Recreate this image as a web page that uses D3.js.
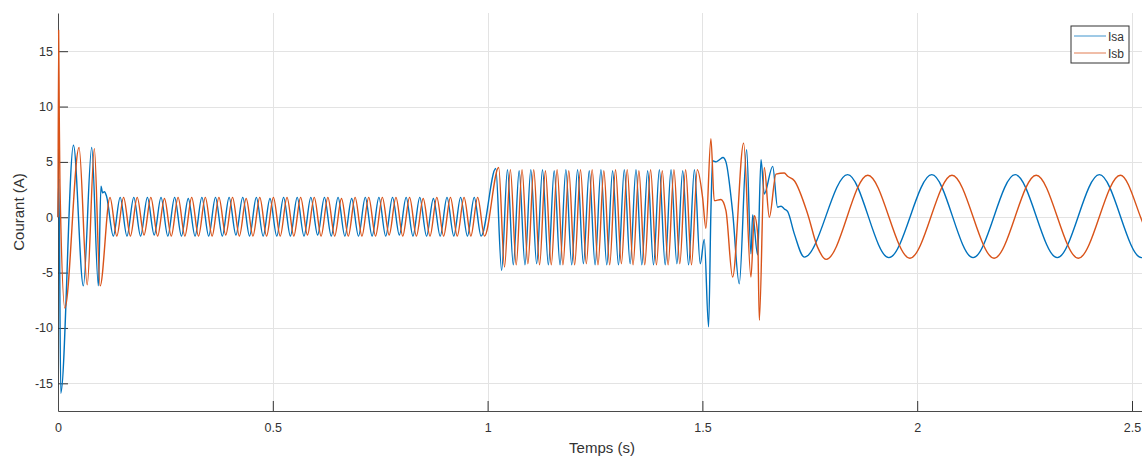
<!DOCTYPE html>
<html>
<head>
<meta charset="utf-8">
<script src="https://cdn.jsdelivr.net/npm/d3@7"></script>
<style>
  body { margin: 0; background: #fff; }
  svg { display: block; font-family: "Liberation Sans", Arial, sans-serif; }
</style>
</head>
<body>
<svg id="chart" width="1142" height="457"></svg>
<script>
// tick values / labels
var xTicks = [0, 0.5, 1, 1.5, 2, 2.5];
var xTickLabels = ["0", "0.5", "1", "1.5", "2", "2.5"];
var yTicks = [-15, -10, -5, 0, 5, 10, 15];
var yTickLabels = ["-15", "-10", "-5", "0", "5", "10", "15"];
var seriesNames = ["Isa", "Isb"];

// start-up transient (s, A)
var isaStartT = [0, 0.002, 0.0065, 0.036, 0.059, 0.0785, 0.094, 0.100, 0.104, 0.108];
var isaStartV = [0, 3.5, -15.9, 6.5, -6.2, 6.3, -6.2, 2.8, 2.2, 2.3];
var isbStartT = [0, 0.0015, 0.003, 0.0045, 0.016, 0.049, 0.068, 0.0846, 0.098];
var isbStartV = [0, 16.9, 8.9, 3.0, -8.2, 6.3, -6.1, 6.2, -6.2];

// no-load regime: successive peaks / troughs, half a period apart
var lowStep = 0.01585;
var isaLowT0 = 0.113;
var isaLowV = [
  1.9,-1.7,1.8,-1.7,1.8,-1.7,1.8,-1.6,1.8,-1.7,
  1.8,-1.7,1.7,-1.7,1.8,-1.7,1.8,-1.7,1.8,-1.6,
  1.8,-1.7,1.8,-1.7,1.7,-1.7,1.8,-1.7,1.8,-1.7,
  1.8,-1.6,1.8,-1.7,1.8,-1.7,1.7,-1.7,1.8,-1.7,
  1.8,-1.7,1.8,-1.6,1.8,-1.7,1.8,-1.7,1.7,-1.7,
  1.8,-1.7,1.8,-1.7,1.8,-1.7];
var isbLowT0 = 0.121;
var isbLowV = [
  1.8,-1.7,1.8,-1.7,1.8,-1.6,1.8,-1.7,1.7,-1.7,
  1.8,-1.7,1.8,-1.7,1.8,-1.7,1.8,-1.6,1.8,-1.7,
  1.7,-1.7,1.8,-1.7,1.8,-1.7,1.8,-1.7,1.8,-1.6,
  1.8,-1.7,1.8,-1.7,1.7,-1.7,1.8,-1.7,1.8,-1.7,
  1.8,-1.6,1.8,-1.7,1.8,-1.7,1.7,-1.7,1.8,-1.7,
  1.8,-1.7,1.8,-1.7,1.8,-1.7];

// load applied at t = 1 s
var highStep = 0.0136;
var isaHighT0 = 1.019;
var isaHighV = [
  4.4,-4.8,4.3,-4.3,4.2,-4.3,4.3,-4.2,4.3,-4.3,
  4.2,-4.3,4.3,-4.3,4.3,-4.2,4.2,-4.3,4.3,-4.3,
  4.2,-4.3,4.3,-4.2,4.3,-4.3,4.2,-4.3,4.3,-4.3,
  4.3,-4.2,4.2,-4.3,4.3,-4.2];
var isbHighT0 = 1.0258;
var isbHighV = [
  4.5,-4.5,4.3,-4.3,4.3,-4.2,4.3,-4.3,4.2,-4.3,
  4.3,-4.3,4.2,-4.3,4.3,-4.2,4.3,-4.3,4.2,-4.3,
  4.3,-4.2,4.3,-4.3,4.2,-4.3,4.3,-4.3,4.2,-4.3,
  4.3,-4.2,4.3,-4.3,4.3];

// speed change at 1.5 s and low-frequency regime
var isaTailT = [1.5043, 1.5144, 1.5198, 1.5237, 1.532, 1.540, 1.548, 1.5548, 1.5703, 1.5858,
  1.603, 1.613, 1.617, 1.6286, 1.6364, 1.644, 1.6636, 1.675, 1.683, 1.6907, 1.6986, 1.714, 1.7373,
  1.838, 1.934, 2.034, 2.130, 2.228, 2.326, 2.424, 2.522, 2.53];
var isaTailV = [-2.0, -9.9, 0.5, 5.1, 5.0, 5.2, 5.4, 5.0, 0.5, -6.0,
  6.1, -3.3, 0.2, -3.4, 5.2, 2.1, 4.6, 0.9, 1.0, 0.75, 0.5, -1.5, -3.6,
  3.85, -3.65, 3.85, -3.65, 3.85, -3.65, 3.85, -3.65, -3.6];
var isbTailT = [1.5004, 1.5082, 1.5198, 1.5276, 1.5431, 1.5548, 1.5703, 1.596, 1.613, 1.621,
  1.6286, 1.6325, 1.644, 1.6558, 1.6713, 1.6907, 1.6986, 1.714, 1.745, 1.768, 1.788,
  1.885, 1.983, 2.081, 2.179, 2.277, 2.375, 2.473, 2.523, 2.53];
var isbTailV = [1.8, -1.0, 7.1, 1.5, 1.6, 0.6, -5.4, 6.7, -5.4, 0.15,
  -1.5, -9.3, 4.5, 0.0, 3.9, 4.0, 3.7, 3.3, 0.3, -2.7, -3.8,
  3.8, -3.7, 3.8, -3.7, 3.8, -3.7, 3.8, -0.3, -1.0];

function buildSeries(startT, startV, lowT0, lowV, highT0, highV, tailT, tailV) {
  var pts = [];
  startT.forEach(function(t, i) { pts.push({t: t, v: startV[i]}); });
  lowV.forEach(function(v, i) { pts.push({t: lowT0 + i * lowStep, v: v}); });
  highV.forEach(function(v, i) { pts.push({t: highT0 + i * highStep, v: v}); });
  tailT.forEach(function(t, i) { pts.push({t: t, v: tailV[i]}); });
  return pts;
}

var isa = buildSeries(isaStartT, isaStartV, isaLowT0, isaLowV, isaHighT0, isaHighV, isaTailT, isaTailV);
var isb = buildSeries(isbStartT, isbStartV, isbLowT0, isbLowV, isbHighT0, isbHighV, isbTailT, isbTailV);

var colors = ["#0072BD", "#D95319"];

var svg = d3.select("#chart");
var plotL = 58, plotT = 13, plotB = 411, plotR = 58 + 2.53 * 429.6;

var x = d3.scaleLinear().domain([0, 2.53]).range([plotL, plotR]);
var y = d3.scaleLinear().domain([-17.5, 18.45]).range([plotB, plotT]);

svg.append("rect").attr("width", 1142).attr("height", 457).attr("fill", "#fff");

// grid
var grid = svg.append("g").attr("stroke", "#e3e3e3").attr("stroke-width", 1);
grid.selectAll(".gx").data(xTicks.slice(1)).enter().append("line")
  .attr("x1", function(d) { return Math.round(x(d)) + 0.5; })
  .attr("x2", function(d) { return Math.round(x(d)) + 0.5; })
  .attr("y1", plotT).attr("y2", plotB);
grid.selectAll(".gy").data(yTicks).enter().append("line")
  .attr("y1", function(d) { return Math.round(y(d)) + 0.5; })
  .attr("y2", function(d) { return Math.round(y(d)) + 0.5; })
  .attr("x1", plotL).attr("x2", plotR);

// axes
var gx = svg.append("g").attr("transform", "translate(0," + plotB + ")")
  .call(d3.axisBottom(x).tickValues(xTicks).tickSize(-10).tickSizeOuter(0).tickPadding(12)
    .tickFormat(function(d, i) { return xTickLabels[i]; }));
var gy = svg.append("g").attr("transform", "translate(" + plotL + ",0)")
  .call(d3.axisLeft(y).tickValues(yTicks).tickSize(-10).tickSizeOuter(0).tickPadding(5)
    .tickFormat(function(d, i) { return yTickLabels[i]; }));

[gx, gy].forEach(function(g) {
  g.select(".domain").attr("stroke", "#4a4a4a").attr("stroke-width", 1);
  g.selectAll(".tick line").attr("stroke", "#333").attr("stroke-width", 1);
  g.selectAll(".tick text").attr("fill", "#333")
    .style("font-family", "'Liberation Sans', Arial, sans-serif").style("font-size", "12.5px");
});

// axis labels
svg.append("text").attr("x", 602).attr("y", 453).attr("text-anchor", "middle")
  .attr("fill", "#333").style("font-size", "15px").text("Temps (s)");
svg.append("text").attr("transform", "translate(24,212) rotate(-90)").attr("text-anchor", "middle")
  .attr("fill", "#333").style("font-size", "15px").text("Courant (A)");

// data
var line = d3.line()
  .x(function(d) { return x(d.t); })
  .y(function(d) { return y(d.v); })
  .curve(d3.curveMonotoneX);

[isa, isb].forEach(function(s, i) {
  svg.append("path").datum(s)
    .attr("fill", "none")
    .attr("stroke", colors[i])
    .attr("stroke-width", 1.4)
    .attr("stroke-linejoin", "round")
    .attr("d", line);
});

// legend
var lg = svg.append("g").attr("transform", "translate(1071,26)");
lg.append("rect").attr("width", 58).attr("height", 37)
  .attr("fill", "#fff").attr("stroke", "#333").attr("stroke-width", 1);
seriesNames.forEach(function(name, i) {
  var yy = 10 + i * 17;
  lg.append("line").attr("x1", 3).attr("x2", 35).attr("y1", yy).attr("y2", yy)
    .attr("stroke", colors[i]).attr("stroke-width", 1).attr("opacity", 0.75);
  lg.append("text").attr("x", 37).attr("y", yy + 4.5).attr("fill", "#333")
    .style("font-size", "12px").text(name);
});
</script>
</body>
</html>
